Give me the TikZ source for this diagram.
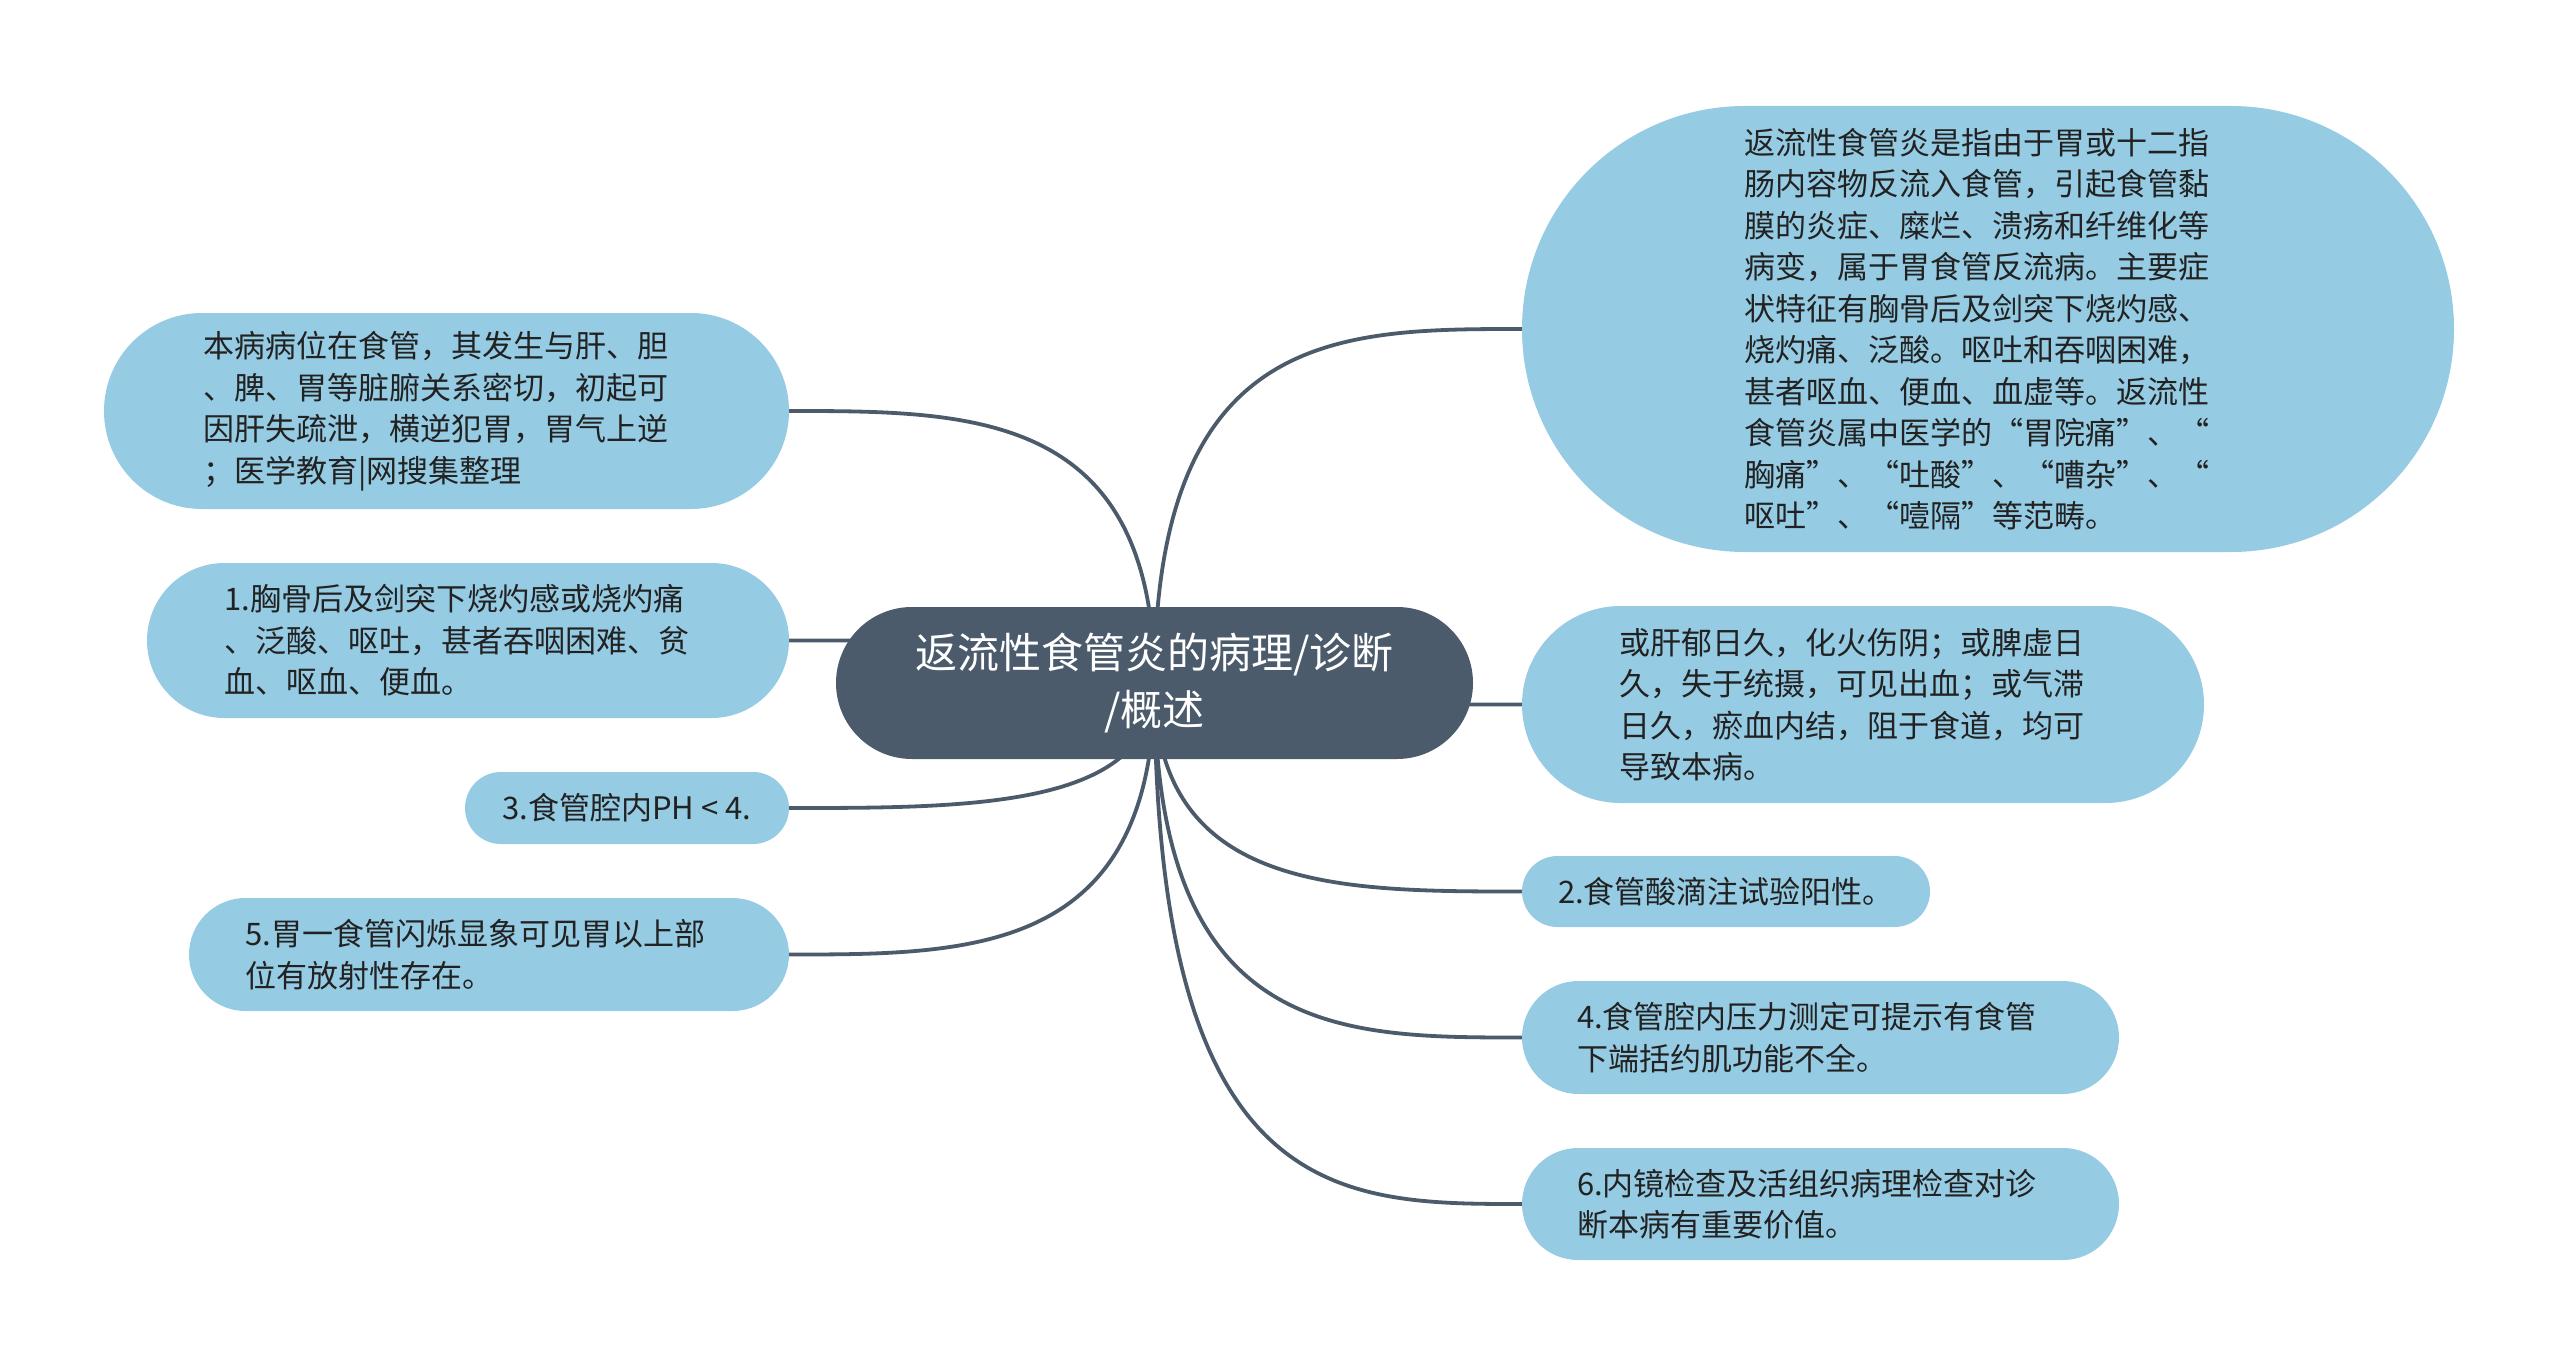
\documentclass[tikz,border=0pt]{standalone}
\usepackage{fontspec}
\setmainfont{Noto Sans CJK SC}
\usetikzlibrary{calc,backgrounds}
\definecolor{leafblue}{HTML}{95CBE3}
\definecolor{rootslate}{HTML}{4B5B6B}
\definecolor{inktext}{HTML}{222222}
\tikzset{
  leaf/.style={fill=leafblue, draw=none, text=inktext,
    font=\fontsize{31}{41.5}\selectfont, align=left, inner ysep=0pt, anchor=center},
  rootnode/.style={fill=rootslate, draw=none, text=white,
    font=\fontsize{42}{57}\selectfont, align=center, inner ysep=0pt, anchor=center},
  link/.style={draw=rootslate, line width=3.8pt},
}
\newcommand\mmlink[2]{\draw[link] (#1.center) .. controls (#1.center |- #2) and ($(#1.center |- #2)!0.5!(#2)$) .. (#2);}
\begin{document}
\begin{tikzpicture}[x=1pt,y=-1pt]
\useasboundingbox (0,0) rectangle (2560,1367);

% root
\node[rootnode, minimum width=637pt, minimum height=152pt, rounded corners=76pt] (root) at (1154.5,683)
  {返流性食管炎的病理/诊断\\/概述};

% left side
\node[leaf, text width=487pt, inner xsep=99pt, minimum height=196pt, rounded corners=98pt] (nA) at (446.5,411)
  {本病病位在食管，其发生与肝、胆\\、脾、胃等脏腑关系密切，初起可\\因肝失疏泄，横逆犯胃，胃气上逆\\；医学教育|网搜集整理};
\node[leaf, text width=487pt, inner xsep=77.5pt, minimum height=155pt, rounded corners=77.5pt] (nL1) at (468,640.5)
  {1.胸骨后及剑突下烧灼感或烧灼痛\\、泛酸、呕吐，甚者吞咽困难、贫\\血、呕血、便血。};
\node[leaf, minimum width=324pt, minimum height=72pt, rounded corners=36pt] (nL3) at (627,808)
  {3.食管腔内PH < 4.};
\node[leaf, text width=487pt, inner xsep=56.5pt, minimum height=113pt, rounded corners=56.5pt] (nL5) at (489,954.5)
  {5.胃一食管闪烁显象可见胃以上部\\位有放射性存在。};

% right side
\node[leaf, text width=487pt, inner xsep=222.5pt, minimum height=446pt, rounded corners=223pt] (big) at (1988,329)
  {返流性食管炎是指由于胃或十二指\\肠内容物反流入食管，引起食管黏\\膜的炎症、糜烂、溃疡和纤维化等\\病变，属于胃食管反流病。主要症\\状特征有胸骨后及剑突下烧灼感、\\烧灼痛、泛酸。呕吐和吞咽困难，\\甚者呕血、便血、血虚等。返流性\\食管炎属中医学的“胃院痛”、“\\胸痛”、“吐酸”、“嘈杂”、“\\呕吐”、“噎隔”等范畴。};
\node[leaf, text width=487pt, inner xsep=97.5pt, minimum height=197pt, rounded corners=98.5pt] (nR2) at (1863,704.5)
  {或肝郁日久，化火伤阴；或脾虚日\\久，失于统摄，可见出血；或气滞\\日久，瘀血内结，阻于食道，均可\\导致本病。};
\node[leaf, minimum width=408pt, minimum height=71pt, rounded corners=35.5pt] (nR3) at (1726,891.5)
  {2.食管酸滴注试验阳性。};
\node[leaf, text width=487pt, inner xsep=55pt, minimum height=113pt, rounded corners=56.5pt] (nR4) at (1820.5,1037.5)
  {4.食管腔内压力测定可提示有食管\\下端括约肌功能不全。};
\node[leaf, text width=487pt, inner xsep=55pt, minimum height=112pt, rounded corners=56pt] (nR6) at (1820.5,1204)
  {6.内镜检查及活组织病理检查对诊\\断本病有重要价值。};

\begin{pgfonlayer}{background}
\mmlink{root}{nA.east}
\mmlink{root}{nL1.east}
\mmlink{root}{nL3.east}
\mmlink{root}{nL5.east}
\mmlink{root}{big.west}
\mmlink{root}{nR2.west}
\mmlink{root}{nR3.west}
\mmlink{root}{nR4.west}
\mmlink{root}{nR6.west}
\end{pgfonlayer}
\end{tikzpicture}
\end{document}
